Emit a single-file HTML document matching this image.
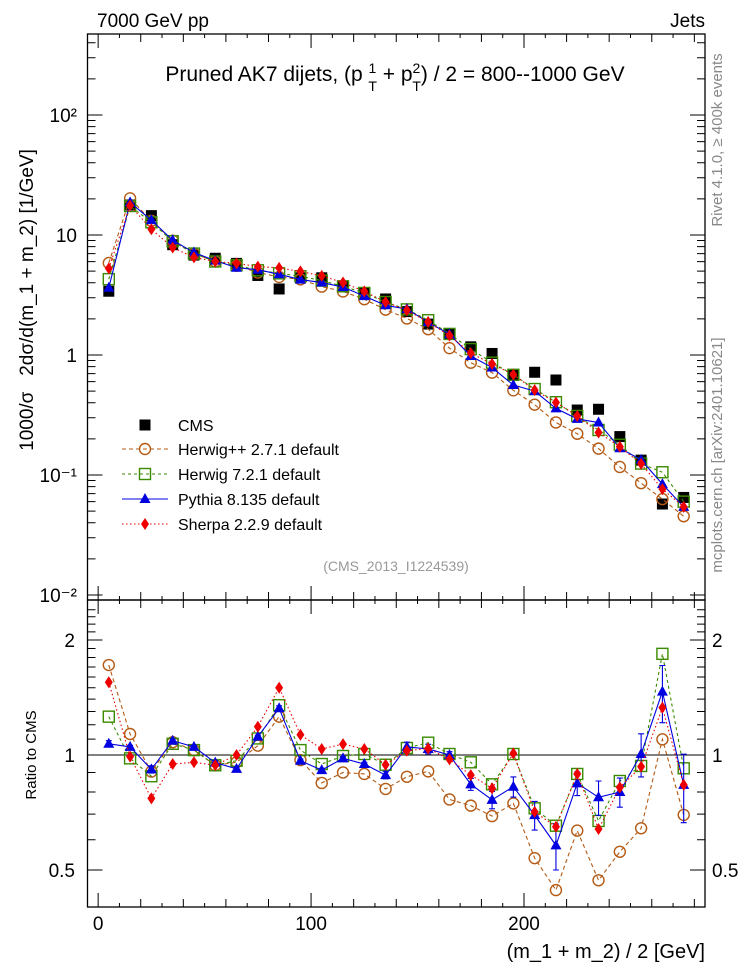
<!DOCTYPE html>
<html><head><meta charset="utf-8">
<style>
html,body{margin:0;padding:0;background:#fff;}
svg{display:block;font-family:"Liberation Sans",Arial,sans-serif;}
</style></head>
<body>
<svg id="chart" width="746" height="972" viewBox="0 0 746 972" xmlns="http://www.w3.org/2000/svg">
<text x="97" y="27" font-size="19">7000 GeV pp</text>
<text x="705" y="27" font-size="19" text-anchor="end">Jets</text>
<text x="395" y="81" font-size="21" text-anchor="middle">Pruned AK7 dijets, (p <tspan font-size="14" dy="-8">1</tspan><tspan font-size="14" dx="-8" dy="18">T</tspan><tspan dy="-10"> + p</tspan><tspan font-size="14" dy="-8">2</tspan><tspan font-size="14" dx="-8" dy="18">T</tspan><tspan dy="-10">) / 2 = 800--1000 GeV</tspan></text>
<text transform="translate(33,300) rotate(-90)" font-size="19" text-anchor="middle">1000/σ&#160;&#160;&#160;2dσ/d(m_1 + m_2) [1/GeV]</text>
<text transform="translate(36,755) rotate(-90)" font-size="15" text-anchor="middle">Ratio to CMS</text>
<text x="705" y="958" font-size="20" text-anchor="end">(m_1 + m_2) / 2 [GeV]</text>
<text transform="translate(722,140) rotate(-90)" font-size="15" fill="#888" text-anchor="middle">Rivet 4.1.0, ≥ 400k events</text>
<text transform="translate(722,455) rotate(-90)" font-size="15" fill="#888" text-anchor="middle">mcplots.cern.ch [arXiv:2401.10621]</text>
<text x="396" y="571" font-size="14" fill="#999" text-anchor="middle">(CMS_2013_I1224539)</text>
<g id="axes"></g>
<g id="marks"></g>
<g id="legend"></g>
</svg>
<script>
const bins = [5,15,25,35,45,55,65,75,85,95,105,115,125,135,145,155,165,175,185,195,205,215,225,235,245,255,265,275];
const cmsValues = [3.4,17.8,14.5,8.3,6.8,6.4,5.8,4.6,3.55,4.4,4.4,3.76,3.27,2.93,2.30,1.81,1.49,1.17,1.03,0.68,0.718,0.619,0.348,0.353,0.209,0.133,0.0573,0.065];
const ratioHerwigpp = [1.72,1.135,0.905,1.08,1.03,0.94,0.957,1.058,1.26,0.97,0.845,0.90,0.892,0.815,0.877,0.906,0.765,0.737,0.692,0.747,0.537,0.443,0.634,0.47,0.558,0.643,1.099,0.697];
const ratioHerwig7 = [1.26,0.98,0.88,1.07,1.03,0.94,0.966,1.105,1.35,1.03,0.947,0.994,1.006,0.943,1.043,1.077,1.006,0.957,0.838,1.006,0.725,0.653,0.892,0.672,0.855,0.936,1.84,0.923];
const ratioPythia = [1.07,1.05,0.917,1.09,1.05,0.955,0.92,1.117,1.325,0.966,0.913,0.98,0.947,0.886,1.05,1.037,1.0,0.838,0.763,0.826,0.696,0.58,0.843,0.775,0.80,1.006,1.465,0.835];
const ratioSherpa = [1.55,0.99,0.77,0.947,0.957,0.94,1.0,1.186,1.50,1.13,1.037,1.068,1.037,0.943,1.026,1.04,0.974,0.886,0.818,1.01,0.71,0.649,0.892,0.64,0.823,0.932,1.33,0.835];
const pythiaErr = [0.02,0.01,0.02,0.01,0.01,0.01,0.01,0.01,0.02,0.01,0.01,0.01,0.01,0.02,0.03,0.03,0.02,0.03,0.04,0.05,0.06,0.08,0.06,0.08,0.07,0.13,0.25,0.17];
const xTickLabels = [0,100,200];
const yMainTickLabels = ["10⁻²","10⁻¹","1","10","10²"];
const yRatioTickLabels = ["0.5","1","2"];

const NS="http://www.w3.org/2000/svg";
const L=87.5,R=705,MT=34,MB=600,RT=600,RB=907;
const X=v=>L+(v+5)*(R-L)/290;
const YM=v=>235-(Math.log10(v)-1)*120;
const YR=v=>755-Math.log2(v)*115;
function mk(tag,attrs,parent){const e=document.createElementNS(NS,tag);for(const k in attrs)e.setAttribute(k,attrs[k]);parent.appendChild(e);return e;}
const axes=document.getElementById('axes'),marks=document.getElementById('marks'),legend=document.getElementById('legend');

let f1=mk('rect',{x:L,y:MT,width:R-L,height:MB-MT,fill:'none',stroke:'#000','stroke-width':1.3},axes);


let f2=mk('rect',{x:L,y:RT,width:R-L,height:RB-RT,fill:'none',stroke:'#000','stroke-width':1.3},axes);


let d='';
for(let v=0;v<=280;v+=10){const x=X(v);const len=v%100==0?14:(v%20==0?8:4);
 d+=`M${x},${MB}v${-len}M${x},${MT}v${len}M${x},${RB}v${-len}M${x},${RT}v${len}`;}
for(let e=-3;e<=2;e++){for(let m=1;m<10;m++){const v=m*Math.pow(10,e);const y=YM(v);if(y<MT||y>MB)continue;const len=m==1?15:8;d+=`M${L},${y}h${len}M${R},${y}h${-len}`;}}
for(let v=0.4;v<=2.5;v+=0.1){const y=YR(v);if(y<RT||y>RB)continue;const maj=[0.5,1,2].some(t=>Math.abs(t-v)<1e-6);const len=maj?15:8;d+=`M${L},${y}h${len}M${R},${y}h${-len}`;}
let tk=mk('path',{d:d,stroke:'#000','stroke-width':1,fill:'none'},axes);


let ul=mk('line',{x1:L,x2:R,y1:YR(1),y2:YR(1),stroke:'#000','stroke-width':1},axes);


xTickLabels.forEach(v=>{const t=mk('text',{x:X(v),y:930,'font-size':19,'text-anchor':'middle'},axes);t.textContent=v;
 
 });
yMainTickLabels.forEach((s,i)=>{const y=YM(Math.pow(10,i-2));const t=mk('text',{x:77,y:y+7,'font-size':19,'text-anchor':'end'},axes);t.textContent=s;
 
 });
[0.5,1,2].forEach((v,i)=>{const y=YR(v);
 const t=mk('text',{x:75,y:y+7,'font-size':19,'text-anchor':'end'},axes);t.textContent=yRatioTickLabels[i];
 
 
 const t2=mk('text',{x:712,y:y+7,'font-size':19},axes);t2.textContent=yRatioTickLabels[i];
 
 });

function marker(type,x,y,c,g){
 if(type=='circle')return mk('circle',{cx:x,cy:y,r:5.5,fill:'none',stroke:c,'stroke-width':1.4},g);
 if(type=='square')return mk('rect',{x:x-5.5,y:y-5.5,width:11,height:11,fill:'none',stroke:c,'stroke-width':1.4},g);
 if(type=='tri')return mk('path',{d:`M${x},${y-6}L${x+5.5},${y+4}L${x-5.5},${y+4}Z`,fill:c},g);
 if(type=='diamond')return mk('path',{d:`M${x},${y-6}L${x+4},${y}L${x},${y+6}L${x-4},${y}Z`,fill:c},g);
 if(type=='box')return mk('rect',{x:x-5.5,y:y-5.5,width:11,height:11,fill:c},g);
}
const series=[
 {name:'herwigpp',ratio:ratioHerwigpp,color:'#b45a14',m:'circle',dash:'4,3',label:'Herwig++ 2.7.1 default'},
 {name:'herwig7',ratio:ratioHerwig7,color:'#3a8a00',m:'square',dash:'3,3',label:'Herwig 7.2.1 default'},
 {name:'pythia',ratio:ratioPythia,color:'#0000e0',m:'tri',dash:'',label:'Pythia 8.135 default'},
 {name:'sherpa',ratio:ratioSherpa,color:'#ee0000',m:'diamond',dash:'1.5,2.5',label:'Sherpa 2.2.9 default'}];

const gc=mk('g',{},marks);


bins.forEach((b,i)=>{const p=marker('box',X(b),YM(cmsValues[i]),'#000',gc);
 
 });

series.forEach(s=>{
 const gm=mk('g',{},marks);
 
 
 const pm=bins.map((b,i)=>[X(b),YM(cmsValues[i]*s.ratio[i])]);
 const pr=bins.map((b,i)=>[X(b),YR(s.ratio[i])]);
 const la={fill:'none',stroke:s.color,'stroke-width':1.1};if(s.dash)la['stroke-dasharray']=s.dash;
 let l1=mk('polyline',Object.assign({points:pm.map(p=>p.join(',')).join(' ')},la),gm);
 
 
 let l2=mk('polyline',Object.assign({points:pr.map(p=>p.join(',')).join(' ')},la),gm);
 
 
 if(s.name=='pythia'){bins.forEach((b,i)=>{const x=X(b),y1=YR(s.ratio[i]+pythiaErr[i]),y2=YR(s.ratio[i]-pythiaErr[i]);
  const e=mk('path',{d:`M${x},${y1}V${y2}M${x-3},${y1}h6M${x-3},${y2}h6`,stroke:s.color,'stroke-width':1.1,fill:'none'},gm);
  
  });}
 pm.forEach(p=>{const q=marker(s.m,p[0],p[1],s.color,gm);
  
  });
 pr.forEach(p=>{const q=marker(s.m,p[0],p[1],s.color,gm);
  
  });
});

const ly=[425,449,474,499,524];
const e0=mk('g',{},legend);


marker('box',145,ly[0],'#000',e0);
const t0=mk('text',{x:178,y:ly[0]+6,'font-size':16},e0);t0.textContent='CMS';
series.forEach((s,i)=>{
 const g=mk('g',{},legend);
 
 
 const la={x1:122,x2:168,y1:ly[i+1],y2:ly[i+1],stroke:s.color,'stroke-width':1.1};if(s.dash)la['stroke-dasharray']=s.dash;
 mk('line',la,g);
 marker(s.m,145,ly[i+1],s.color,g);
 const t=mk('text',{x:178,y:ly[i+1]+6,'font-size':16},g);t.textContent=s.label;
});
</script>
</body></html>
